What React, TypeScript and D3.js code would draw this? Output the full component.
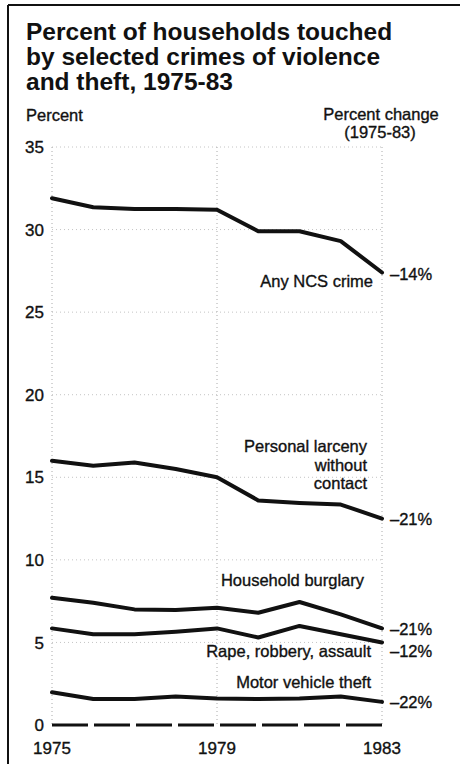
import React from "react";
import * as d3 from "d3";

const years = [1975, 1976, 1977, 1978, 1979, 1980, 1981, 1982, 1983];
const anyNCS = [31.9, 31.35, 31.25, 31.25, 31.2, 29.9, 29.9, 29.3, 27.4];
const larceny = [16.0, 15.7, 15.9, 15.5, 15.0, 13.6, 13.45, 13.35, 12.5];
const burglary = [7.7, 7.4, 7.0, 6.97, 7.1, 6.8, 7.45, 6.7, 5.85];
const violence = [5.85, 5.5, 5.5, 5.65, 5.85, 5.3, 6.0, 5.5, 5.0];
const motorTheft = [1.98, 1.57, 1.57, 1.73, 1.6, 1.57, 1.6, 1.73, 1.4];

const yTicks = [0, 5, 10, 15, 20, 25, 30, 35];
const xTickYears = [1975, 1979, 1983];
const pctChanges = ["–14%", "–21%", "–21%", "–12%", "–22%"];

const titleLines = [
  "Percent of households touched",
  "by selected crimes of violence",
  "and theft, 1975-83",
];

export default function App() {
  const x = d3.scaleLinear().domain([1975, 1983]).range([52, 382]);
  const y = d3.scaleLinear().domain([0, 35]).range([725, 147]);
  const line = d3
    .line<number>()
    .x((_, i) => x(years[i]))
    .y((d) => y(d));

  const series = [anyNCS, larceny, burglary, violence, motorTheft];
  const font = "'Liberation Sans', Arial, Helvetica, sans-serif";
  const fs = 16.5;
  const heavy = { stroke: "#111", strokeWidth: 0.35 };

  const pctY = [280, 525, 635, 657, 708];

  return (
    <svg
      width={460}
      height={764}
      style={{ position: "absolute", left: 0, top: 0, background: "#fff" }}
      fontFamily={font}
    >
      <rect x={0} y={0} width={460} height={764} fill="#fff" />
      {/* border */}
      <line x1={8} x2={8} y1={5} y2={764} stroke="#111" strokeWidth={2} />
      <line x1={8} x2={460} y1={5} y2={5} stroke="#111" strokeWidth={2} />

      {/* title */}
      {titleLines.map((t, i) => (
        <text key={t} x={26} y={39.5 + i * 25.3} fontSize={24.5} fontWeight="bold" fill="#111">
          {t}
        </text>
      ))}

      <text x={26} y={121} fontSize={fs} fill="#111" {...heavy}>Percent</text>
      <text x={381} y={120} fontSize={fs} fill="#111" textAnchor="middle" {...heavy}>Percent change</text>
      <text x={380} y={138} fontSize={fs} fill="#111" textAnchor="middle" {...heavy}>(1975-83)</text>

      {/* grid */}
      {yTicks.filter((t) => t > 0).map((t) => (
        <line key={"g" + t} x1={x(1975)} x2={x(1983)} y1={y(t)} y2={y(t)} stroke="#c4c4c4" strokeWidth={1} strokeDasharray="1 3" />
      ))}
      {xTickYears.map((yr) => (
        <line key={"v" + yr} x1={x(yr)} x2={x(yr)} y1={y(35)} y2={y(0)} stroke="#aaa" strokeWidth={1} strokeDasharray="1 3" />
      ))}

      {/* y tick labels */}
      {yTicks.map((t) => (
        <text key={"t" + t} x={44} y={y(t)} dy="0.36em" fontSize={17} textAnchor="end" fill="#111" {...heavy}>
          {t}
        </text>
      ))}

      {/* zero line */}
      <line x1={x(1975)} x2={x(1983)} y1={y(0)} y2={y(0)} stroke="#111" strokeWidth={3} strokeDasharray="36 6" />

      {/* x labels */}
      {xTickYears.map((yr) => (
        <text key={"x" + yr} x={x(yr)} y={754} fontSize={17} textAnchor="middle" fill="#111" {...heavy}>
          {yr}
        </text>
      ))}

      {/* series lines */}
      {series.map((s, i) => (
        <path key={"s" + i} d={line(s) || ""} fill="none" stroke="#111" strokeWidth={4} strokeLinejoin="round" strokeLinecap="round" />
      ))}

      {/* series labels */}
      <text x={373} y={287} fontSize={fs} textAnchor="end" fill="#111" {...heavy}>Any NCS crime</text>
      <text x={367} y={452} fontSize={fs} textAnchor="end" fill="#111" {...heavy}>Personal larceny</text>
      <text x={367} y={470.5} fontSize={fs} textAnchor="end" fill="#111" {...heavy}>without</text>
      <text x={367} y={489} fontSize={fs} textAnchor="end" fill="#111" {...heavy}>contact</text>
      <text x={364} y={586} fontSize={fs} textAnchor="end" fill="#111" {...heavy}>Household burglary</text>
      <text x={371} y={657} fontSize={fs} textAnchor="end" fill="#111" {...heavy}>Rape, robbery, assault</text>
      <text x={371} y={688} fontSize={fs} textAnchor="end" fill="#111" {...heavy}>Motor vehicle theft</text>

      {/* percent change labels */}
      {pctChanges.map((p, i) => (
        <text key={"p" + i} x={390} y={pctY[i]} fontSize={fs} fill="#111" {...heavy}>
          {p}
        </text>
      ))}
    </svg>
  );
}
